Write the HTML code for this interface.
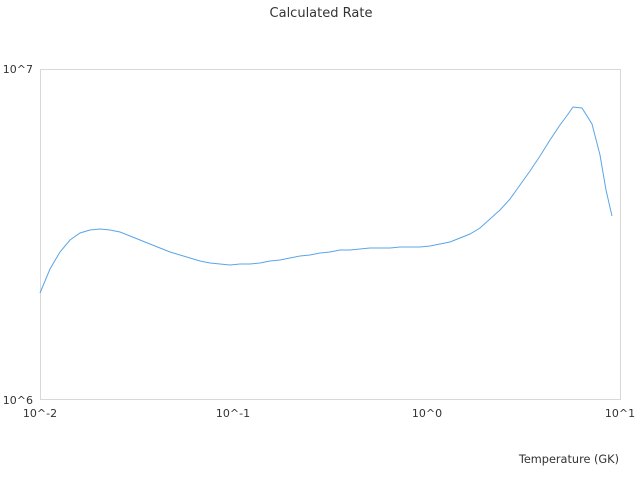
<!DOCTYPE html>
<html><head><style>
body{margin:0;background:#fff;}
svg text{font-family:"DejaVu Sans","Liberation Sans",sans-serif;font-size:11px;fill:#333;}
</style></head><body>
<svg width="640" height="480" xmlns="http://www.w3.org/2000/svg">
<rect x="0" y="0" width="640" height="480" fill="#fff"/>
<text x="321" y="17" text-anchor="middle" style="font-size:13px">Calculated Rate</text>
<rect x="40.5" y="69.5" width="580" height="330" fill="none" stroke="#d8d8d8" stroke-width="1"/>
<text x="33" y="73" text-anchor="end">10^7</text>
<text x="33" y="404" text-anchor="end">10^6</text>
<text x="40" y="417" text-anchor="middle">10^-2</text>
<text x="233" y="417" text-anchor="middle">10^-1</text>
<text x="427" y="417" text-anchor="middle">10^0</text>
<text x="620" y="417" text-anchor="middle">10^1</text>
<text x="619" y="463" text-anchor="end" style="font-size:11.3px">Temperature (GK)</text>
<polyline fill="none" stroke="#5aa5e8" stroke-width="1" points="40,293 50,269 60,252 70,240 80,233 90,230 100,229 110,230 120,232 130,236 140,240 150,244 160,248 170,252 180,255 190,258 200,261 210,263 220,264 230,265 240,264 250,264 260,263 270,261 280,260 290,258 300,256 310,255 320,253 330,252 340,250 350,250 360,249 370,248 380,248 390,248 400,247 410,247 420,247 430,246 440,244 450,242 460,238 470,234 480,228 490,219 500,210 510,199 520,185 530,171 540,156 550,140 560,125 566,117 573,107 582,108 592,124 600,155 606,190 612,216"/>
</svg>
</body></html>
